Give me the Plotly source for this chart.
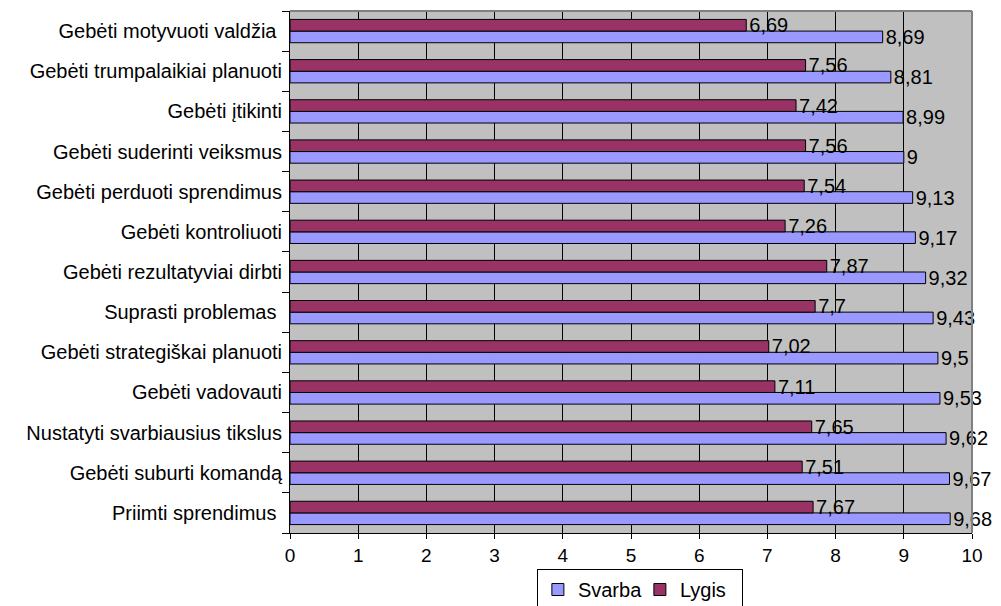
import plotly.graph_objects as go

categories = [
    "Priimti sprendimus ",
    "Gebėti suburti komandą",
    "Nustatyti svarbiausius tikslus",
    "Gebėti vadovauti",
    "Gebėti strategiškai planuoti",
    "Suprasti problemas ",
    "Gebėti rezultatyviai dirbti",
    "Gebėti kontroliuoti",
    "Gebėti perduoti sprendimus",
    "Gebėti suderinti veiksmus",
    "Gebėti įtikinti",
    "Gebėti trumpalaikiai planuoti",
    "Gebėti motyvuoti valdžia ",
]
svarba = [9.68, 9.67, 9.62, 9.53, 9.5, 9.43, 9.32, 9.17, 9.13, 9, 8.99, 8.81, 8.69]
lygis = [7.67, 7.51, 7.65, 7.11, 7.02, 7.7, 7.87, 7.26, 7.54, 7.56, 7.42, 7.56, 6.69]
x_ticks = list(range(0, 11))


def fmt(v):
    return ("%g" % v).replace(".", ",")


FAM = "Liberation Sans, Arial, sans-serif"
font = dict(family=FAM, size=20, color="black")
tickfont = dict(family=FAM, size=19, color="black")
catfont = dict(family=FAM, size=20, color="black")

fig = go.Figure()
fig.add_trace(go.Bar(
    y=categories, x=svarba, orientation="h", name="Svarba",
    marker=dict(color="#9999FF", line=dict(color="black", width=1)),
    text=[fmt(v) for v in svarba], textposition="outside",
    textfont=font, cliponaxis=False, constraintext="none",
))
fig.add_trace(go.Bar(
    y=categories, x=lygis, orientation="h", name="Lygis",
    marker=dict(color="#993366", line=dict(color="black", width=1)),
    text=[fmt(v) for v in lygis], textposition="outside",
    textfont=font, cliponaxis=False, constraintext="none",
))

fig.update_layout(
    width=1001, height=606,
    margin=dict(l=290, r=29, t=11, b=73, autoexpand=False),
    paper_bgcolor="white",
    plot_bgcolor="#C0C0C0",
    barmode="group",
    bargap=0.42,
    bargroupgap=0,
    font=font,
    showlegend=True,
    legend=dict(
        orientation="h", x=0.362, y=-0.069, xanchor="left", yanchor="top",
        bgcolor="white", bordercolor="black", borderwidth=1,
        font=font, itemwidth=30, tracegroupgap=0, entrywidth=57,
    ),
    xaxis=dict(
        range=[0, 10], tickvals=x_ticks, ticktext=[str(t) for t in x_ticks],
        showgrid=True, gridcolor="black", gridwidth=1,
        showline=True, linecolor="black", linewidth=1,
        ticks="outside", ticklen=5, tickcolor="black",
        zeroline=False, tickfont=tickfont, automargin=False,
    ),
    yaxis=dict(
        type="category", showgrid=False,
        showline=True, linecolor="black", linewidth=1,
        ticks="outside", ticklen=7, tickcolor="black",
        tickson="boundaries", tickfont=catfont, automargin=False,
        ticklabelstandoff=3,
    ),
)
fig.add_shape(type="line", xref="paper", yref="paper", x0=0, x1=1, y0=1, y1=1,
              line=dict(color="#808080", width=2))
fig.add_shape(type="line", xref="paper", yref="paper", x0=1, x1=1, y0=0, y1=1,
              line=dict(color="#808080", width=2))

fig.write_html(
    "out.html",
    config={"displayModeBar": False},
    post_script="document.body.style.margin='0';document.body.style.overflow='hidden';",
)
